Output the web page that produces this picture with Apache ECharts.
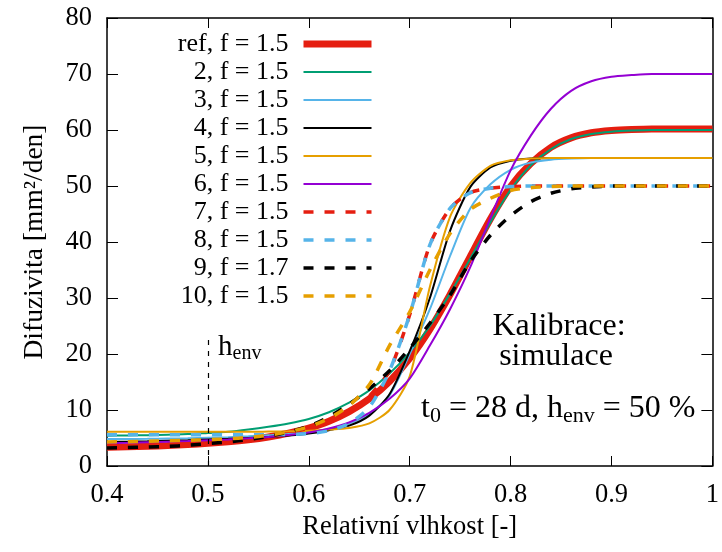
<!DOCTYPE html>
<html>
<head>
<meta charset="utf-8">
<script src="https://cdn.jsdelivr.net/npm/echarts@6/dist/echarts.min.js"></script>
<style>
  html, body { margin: 0; padding: 0; background: #fff; }
  #chart { width: 722px; height: 552px; }
</style>
</head>
<body>
<div id="chart"></div>
<script>
// Relative humidity sample points shared by all curves (step 0.02)
const humidity = [0.40, 0.42, 0.44, 0.46, 0.48, 0.50, 0.52, 0.54, 0.56, 0.58,
                  0.60, 0.62, 0.64, 0.66, 0.68, 0.70, 0.72, 0.74, 0.76, 0.78,
                  0.80, 0.82, 0.84, 0.86, 0.88, 0.90, 0.92, 0.94, 0.96, 0.98, 1.00];

// Diffusivity [mm2/day] for each calibration run
const dRef = [3.35, 3.43, 3.53, 3.66, 3.82, 4.04, 4.32, 4.69, 5.19, 5.86,
              6.77, 8.0, 9.7, 12.0, 15.1, 19.2, 24.4, 30.6, 37.4, 44.1,
              49.9, 54.0, 56.9, 58.6, 59.5, 59.9, 60.1, 60.2, 60.2, 60.2, 60.2];
const d2   = [5.4, 5.45, 5.5, 5.6, 5.7, 5.9, 6.1, 6.5, 7.0, 7.6,
              8.4, 9.6, 11.3, 13.5, 16.5, 20.3, 25.0, 30.8, 37.0, 43.5,
              49.3, 53.7, 56.6, 58.4, 59.3, 59.7, 59.9, 60.0, 60.0, 60.0, 60.0];
const d3   = [4.8, 4.82, 4.85, 4.9, 4.95, 5.05, 5.15, 5.3, 5.5, 5.7,
              6.0, 6.6, 7.6, 9.3, 12.6, 20.0, 28.0, 37.5, 46.0, 50.3,
              52.9, 54.2, 54.7, 54.9, 55.0, 55.0, 55.0, 55.0, 55.0, 55.0, 55.0];
const d4   = [4.3, 4.35, 4.4, 4.5, 4.6, 4.75, 4.85, 5.0, 5.2, 5.45,
              5.8, 6.4, 7.2, 9.0, 12.8, 20.5, 30.0, 42.0, 49.8, 53.3,
              54.5, 54.9, 55.0, 55.0, 55.0, 55.0, 55.0, 55.0, 55.0, 55.0, 55.0];
const d5   = [6.1, 6.1, 6.1, 6.1, 6.1, 6.1, 6.1, 6.1, 6.15, 6.2,
              6.3, 6.5, 6.8, 7.6, 10.0, 16.0, 32.0, 44.5, 50.5, 53.6,
              54.6, 54.9, 55.0, 55.0, 55.0, 55.0, 55.0, 55.0, 55.0, 55.0, 55.0];
const d6   = [4.1, 4.15, 4.25, 4.35, 4.45, 4.6, 4.75, 4.95, 5.2, 5.55,
              6.0, 6.7, 7.8, 9.5, 12.0, 15.6, 21.5, 28.0, 35.5, 44.3,
              52.8, 59.0, 63.8, 67.0, 68.7, 69.5, 69.8, 70.0, 70.0, 70.0, 70.0];
const d7   = [3.3, 3.38, 3.48, 3.6, 3.8, 4.1, 4.35, 4.7, 5.2, 5.9,
              6.8, 8.0, 9.8, 12.5, 17.0, 27.0, 39.5, 46.0, 48.8, 49.6,
              49.9, 50.0, 50.0, 50.0, 50.0, 50.0, 50.0, 50.0, 50.0, 50.0, 50.0];
const d8   = [5.6, 5.6, 5.6, 5.6, 5.6, 5.6, 5.6, 5.6, 5.6, 5.65,
              5.8, 6.3, 7.6, 10.5, 17.0, 27.0, 39.5, 46.0, 48.8, 49.6,
              49.9, 50.0, 50.0, 50.0, 50.0, 50.0, 50.0, 50.0, 50.0, 50.0, 50.0];
const d9   = [3.2, 3.28, 3.38, 3.5, 3.7, 4.0, 4.3, 4.7, 5.3, 6.1,
              7.1, 8.8, 11.0, 13.8, 17.0, 21.0, 25.5, 30.5, 36.5, 41.2,
              44.7, 47.2, 48.7, 49.5, 49.8, 50.0, 50.0, 50.0, 50.0, 50.0, 50.0];
const d10  = [4.3, 4.35, 4.4, 4.5, 4.6, 4.7, 4.85, 5.1, 5.5, 6.1,
              7.0, 8.5, 10.8, 14.5, 21.5, 27.5, 35.0, 41.5, 45.8, 47.8,
              49.2, 49.7, 49.9, 50.0, 50.0, 50.0, 50.0, 50.0, 50.0, 50.0, 50.0];

const seriesNames = ['ref, f = 1.5', '2, f = 1.5', '3, f = 1.5', '4, f = 1.5', '5, f = 1.5',
                     '6, f = 1.5', '7, f = 1.5', '8, f = 1.5', '9, f = 1.7', '10, f = 1.5'];
const seriesValues = [dRef, d2, d3, d4, d5, d6, d7, d8, d9, d10];

// Environment humidity marker
const hEnv = 0.5;
const hEnvTop = 22.5;

const xTicks = { min: 0.4, max: 1, interval: 0.1 };
const yTicks = { min: 0, max: 80, interval: 10 };

const FONT = 'Liberation Serif';
const styles = [
  { color: '#e51e10', width: 7,   dash: 'solid' },
  { color: '#009e73', width: 2,   dash: 'solid' },
  { color: '#56b4e9', width: 2,   dash: 'solid' },
  { color: '#000000', width: 2,   dash: 'solid' },
  { color: '#e69f00', width: 2,   dash: 'solid' },
  { color: '#9400d3', width: 2,   dash: 'solid' },
  { color: '#e51e10', width: 3.5, dash: [10, 11] },
  { color: '#56b4e9', width: 3.5, dash: [10, 11] },
  { color: '#000000', width: 3.5, dash: [10, 11] },
  { color: '#e69f00', width: 3.5, dash: [10, 11] }
];

const series = seriesNames.map((name, i) => ({
  name: name,
  type: 'line',
  data: humidity.map((h, k) => [h, seriesValues[i][k]]),
  smooth: 0.25,
  symbol: 'none',
  color: styles[i].color,
  lineStyle: { color: styles[i].color, width: styles[i].width, type: styles[i].dash, cap: 'butt' },
  emphasis: { disabled: true },
  animation: false
}));

// Dashed vertical marker at h_env
series.push({
  name: 'henv',
  type: 'line',
  data: [],
  symbol: 'none',
  markLine: {
    silent: true,
    symbol: ['none', 'none'],
    label: { show: false },
    lineStyle: { color: '#000', width: 1.2, type: [5, 6] },
    data: [[{ coord: [hEnv, 0] }, { coord: [hEnv, hEnvTop] }]]
  },
  animation: false
});

const labelFont = { fontFamily: FONT, fontSize: 26.5, color: '#000' };
const edgeLine = { show: true, onZero: false, lineStyle: { color: '#000', width: 1.5 } };
const xTick = { show: true, inside: true, length: 10, lineStyle: { color: '#000', width: 1 } };
const yTick = { show: true, inside: true, length: 11, lineStyle: { color: '#000', width: 1 } };

function richText(main, sub) {
  return {
    m: { fontFamily: FONT, fontSize: main, fill: '#000', lineHeight: main + 6 },
    s: { fontFamily: FONT, fontSize: sub, fill: '#000', lineHeight: main + 6, padding: [Math.round(main * 0.45), 0, 0, 0] }
  };
}

const chart = echarts.init(document.getElementById('chart'), null, { renderer: 'canvas' });
chart.setOption({
  backgroundColor: '#fff',
  animation: false,
  grid: { left: 107, right: 9, top: 18, bottom: 86 },
  legend: {
    data: seriesNames.map((name, i) => ({
      name: name,
      lineStyle: { width: styles[i].width, type: styles[i].dash, color: styles[i].color }
    })),
    orient: 'vertical',
    align: 'right',
    right: 347,
    top: 30,
    padding: 0,
    itemGap: 0,
    itemWidth: 68,
    itemHeight: 14,
    selectedMode: false,
    itemStyle: { opacity: 0 },
    textStyle: { fontFamily: FONT, fontSize: 26, color: '#000', lineHeight: 28, padding: [0, 10, 0, 0] }
  },
  xAxis: [{
    type: 'value',
    min: xTicks.min, max: xTicks.max, interval: xTicks.interval,
    name: 'Relativní vlhkost [-]',
    nameLocation: 'middle',
    nameGap: 44,
    nameTextStyle: labelFont,
    axisLine: edgeLine,
    axisTick: xTick,
    axisLabel: { ...labelFont, margin: 16 },
    splitLine: { show: false }
  }, {
    type: 'value', position: 'top',
    min: xTicks.min, max: xTicks.max, interval: xTicks.interval,
    axisLine: edgeLine,
    axisTick: xTick,
    axisLabel: { show: false },
    splitLine: { show: false }
  }],
  yAxis: [{
    type: 'value',
    min: yTicks.min, max: yTicks.max, interval: yTicks.interval,
    name: 'Difuzivita [mm²/den]',
    nameLocation: 'middle',
    nameGap: 58,
    nameTextStyle: { ...labelFont, fontSize: 27.5 },
    axisLine: edgeLine,
    axisTick: yTick,
    axisLabel: { ...labelFont, margin: 15 },
    splitLine: { show: false }
  }, {
    type: 'value', position: 'right',
    min: yTicks.min, max: yTicks.max, interval: yTicks.interval,
    axisLine: edgeLine,
    axisTick: yTick,
    axisLabel: { show: false },
    splitLine: { show: false }
  }],
  graphic: [
    {
      type: 'text', x: 559, y: 327,
      style: { text: 'Kalibrace:', font: '32px "Liberation Serif"', fill: '#000', align: 'center', verticalAlign: 'middle' }
    },
    {
      type: 'text', x: 556, y: 357,
      style: { text: 'simulace', font: '32px "Liberation Serif"', fill: '#000', align: 'center', verticalAlign: 'middle' }
    },
    {
      type: 'text', x: 421, y: 409,
      style: {
        text: '{m|t}{s|0}{m| = 28 d, h}{s|env}{m| = 50 %}',
        align: 'left', verticalAlign: 'middle',
        rich: richText(32, 22)
      }
    },
    {
      type: 'text', x: 218, y: 347,
      style: {
        text: '{m|h}{s|env}',
        align: 'left', verticalAlign: 'middle',
        rich: richText(29, 20)
      }
    }
  ],
  series: series
});
</script>
</body>
</html>
